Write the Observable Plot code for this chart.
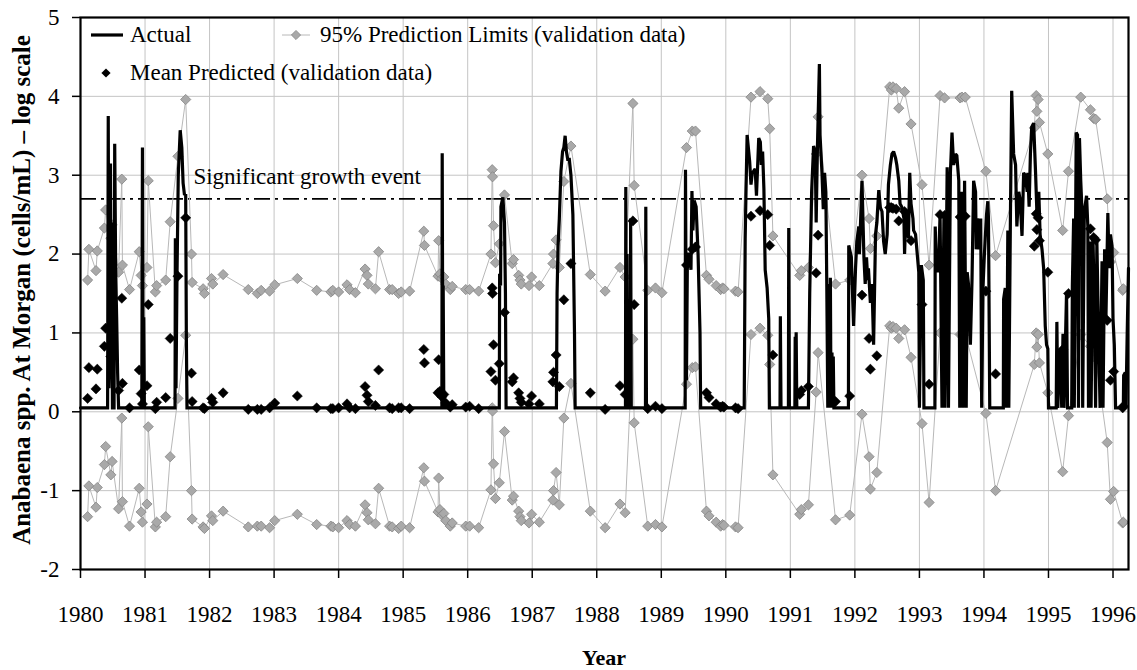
<!DOCTYPE html>
<html><head><meta charset="utf-8">
<script src="https://cdn.jsdelivr.net/npm/d3@7"></script>
<script src="https://cdn.jsdelivr.net/npm/@observablehq/plot@0.6"></script>
<style>
body{margin:0;background:#fff;}
#wrap{position:relative;width:1137px;height:670px;font-family:"Liberation Serif","Times New Roman",serif;color:#000;}
#wrap svg text{font-family:"Liberation Serif","Times New Roman",serif !important;font-variant:normal !important;}
.t{position:absolute;white-space:nowrap;line-height:1;font-size:23px;}
</style></head><body><div id="wrap"></div>
<script>
// ---- data ----
const yearTicks = [1980,1981,1982,1983,1984,1985,1986,1987,1988,1989,1990,1991,1992,1993,1994,1995,1996];
const valueTicks = [-2,-1,0,1,2,3,4,5];
const threshold = [2.7];
const thresholdLabel = ["Significant growth event"];
const seriesNames = ["Actual", "95% Prediction Limits (validation data)", "Mean Predicted (validation data)"];

const predYear = [1980.11,1980.13,1980.24,1980.26,1980.37,1980.39,1980.47,1980.49,1980.59,1980.64,1980.65,1980.76,1980.91,1980.94,1980.96,1981.03,1981.05,1981.16,1981.18,1981.32,1981.39,1981.51,1981.63,1981.72,1981.73,1981.90,1981.92,1982.03,1982.05,1982.21,1982.60,1982.74,1982.80,1982.93,1983.01,1983.36,1983.66,1983.88,1983.91,1984.00,1984.13,1984.17,1984.26,1984.41,1984.44,1984.46,1984.57,1984.62,1984.79,1984.83,1984.93,1984.97,1985.10,1985.32,1985.33,1985.54,1985.55,1985.57,1985.60,1985.63,1985.66,1985.73,1985.76,1985.97,1986.03,1986.17,1986.36,1986.38,1986.385,1986.40,1986.43,1986.49,1986.57,1986.69,1986.71,1986.79,1986.81,1986.83,1986.95,1986.99,1987.11,1987.32,1987.33,1987.37,1987.42,1987.49,1987.60,1987.90,1988.13,1988.36,1988.44,1988.56,1988.58,1988.79,1988.91,1989.01,1989.39,1989.48,1989.53,1989.70,1989.74,1989.85,1989.92,1989.95,1989.97,1990.15,1990.19,1990.39,1990.53,1990.65,1990.68,1990.73,1991.145,1991.17,1991.28,1991.40,1991.43,1991.70,1991.92,1992.11,1992.22,1992.24,1992.34,1992.54,1992.565,1992.59,1992.64,1992.68,1992.77,1992.87,1993.04,1993.15,1993.32,1993.39,1993.63,1993.66,1993.71,1994.03,1994.18,1994.78,1994.81,1994.82,1994.84,1994.86,1994.99,1995.22,1995.31,1995.50,1995.65,1995.70,1995.73,1995.91,1995.96,1996.01,1996.15,1996.16];
const predMean = [0.17,0.56,0.29,0.54,0.83,1.06,0.70,0.87,0.27,1.44,0.36,0.05,0.53,0.23,0.10,0.33,1.36,0.04,0.12,0.18,0.93,1.72,2.46,0.49,0.13,0.05,0.04,0.17,0.12,0.24,0.03,0.03,0.03,0.05,0.11,0.20,0.05,0.04,0.04,0.05,0.10,0.05,0.04,0.32,0.21,0.13,0.08,0.53,0.05,0.04,0.05,0.05,0.04,0.79,0.62,0.24,0.66,0.26,0.19,0.22,0.11,0.06,0.09,0.06,0.07,0.04,0.51,1.57,1.50,0.85,0.40,0.61,1.26,0.38,0.43,0.24,0.17,0.12,0.10,0.20,0.10,0.38,0.50,0.72,0.32,1.42,1.88,0.24,0.03,0.33,0.22,2.42,1.36,0.04,0.07,0.04,1.86,2.06,2.09,0.24,0.18,0.10,0.06,0.07,0.06,0.05,0.04,2.48,2.55,2.50,2.11,0.72,0.22,0.27,0.32,1.76,2.24,0.13,0.20,1.48,0.93,0.54,0.71,2.59,2.59,2.58,2.57,2.42,2.54,2.17,1.36,0.35,2.50,2.49,2.47,2.48,2.48,1.53,0.48,2.10,2.51,2.31,2.46,2.17,1.77,0.79,1.50,2.49,2.32,2.21,2.18,1.16,0.40,0.51,0.05,0.07];
const predUpper = [1.67,2.06,1.79,2.04,2.33,2.56,2.20,2.37,1.77,2.95,1.86,1.55,2.03,1.73,1.60,1.83,2.93,1.52,1.60,1.67,2.41,3.24,3.96,2.00,1.64,1.56,1.50,1.69,1.62,1.74,1.55,1.50,1.54,1.53,1.61,1.69,1.54,1.52,1.54,1.52,1.61,1.55,1.51,1.81,1.73,1.62,1.56,2.03,1.55,1.55,1.50,1.52,1.53,2.29,2.11,1.72,2.17,1.75,1.69,1.71,1.62,1.55,1.59,1.55,1.55,1.53,2.00,3.07,2.98,2.36,1.89,2.13,2.75,1.88,1.93,1.73,1.67,1.62,1.60,1.71,1.60,1.88,2.00,2.18,1.83,2.92,3.37,1.74,1.53,1.83,1.71,3.91,2.87,1.54,1.57,1.51,3.35,3.56,3.56,1.73,1.68,1.60,1.55,1.57,1.56,1.53,1.52,3.99,4.06,3.97,3.59,2.23,1.73,1.79,1.83,3.27,3.74,1.62,1.67,3.00,2.45,2.07,2.23,4.12,4.08,4.12,4.10,3.85,4.06,3.65,2.88,1.86,4.01,3.98,3.98,3.99,3.99,3.05,1.98,3.60,4.01,3.81,3.96,3.67,3.27,2.30,3.05,3.99,3.83,3.72,3.71,2.70,1.90,2.02,1.54,1.56];
const predLower = [-1.33,-0.94,-1.21,-0.96,-0.67,-0.44,-0.80,-0.63,-1.23,-0.08,-1.14,-1.45,-0.97,-1.27,-1.40,-1.17,-0.19,-1.46,-1.40,-1.33,-0.57,0.17,0.97,-1.00,-1.36,-1.46,-1.48,-1.32,-1.38,-1.26,-1.46,-1.45,-1.45,-1.47,-1.38,-1.30,-1.43,-1.45,-1.46,-1.47,-1.38,-1.43,-1.45,-1.18,-1.28,-1.37,-1.42,-0.97,-1.45,-1.46,-1.48,-1.45,-1.47,-0.71,-0.88,-1.27,-0.84,-1.24,-1.31,-1.29,-1.38,-1.45,-1.41,-1.45,-1.45,-1.47,-0.99,0.05,0.01,-0.66,-1.10,-0.90,-0.25,-1.12,-1.07,-1.26,-1.33,-1.38,-1.41,-1.30,-1.40,-1.12,-1.00,-0.77,-1.18,-0.08,0.36,-1.26,-1.47,-1.17,-1.28,0.92,-0.14,-1.45,-1.43,-1.46,0.35,0.56,0.57,-1.26,-1.32,-1.40,-1.45,-1.43,-1.44,-1.46,-1.47,0.98,1.06,0.97,0.60,-0.80,-1.30,-1.24,-1.18,0.25,0.75,-1.37,-1.31,-0.03,-0.57,-0.98,-0.77,1.09,1.06,1.08,1.06,0.93,1.04,0.69,-0.15,-1.15,1.00,1.00,0.98,0.98,0.99,-0.02,-1.00,0.60,1.00,0.82,0.98,0.62,0.24,-0.76,-0.05,0.98,0.83,0.71,0.68,-0.39,-1.11,-1.01,-1.41,-1.40];

// Actual series: [decimal year, log10 cells/mL]
const actual = [[1980.00,0.05],[1980.42,0.05],[1980.43,3.75],[1980.44,0.3],[1980.455,0.8],[1980.465,3.15],[1980.475,0.9],[1980.485,2.4],[1980.495,0.05],[1980.52,0.05],[1980.53,3.4],[1980.545,1.8],[1980.56,1.2],[1980.575,0.5],[1980.59,0.05],
[1980.95,0.05],[1980.96,3.35],[1980.97,0.5],[1980.98,1.2],[1980.99,0.05],
[1981.465,0.05],[1981.47,2.2],[1981.48,0.3],[1981.495,1.7],[1981.515,3.0],[1981.545,3.57],[1981.57,3.35],[1981.59,2.9],[1981.61,2.76],[1981.63,2.75],[1981.64,1.0],[1981.65,0.05],
[1985.60,0.05],[1985.605,3.28],[1985.615,0.3],[1985.62,1.6],[1985.63,0.05],
[1986.49,0.05],[1986.495,1.75],[1986.51,1.6],[1986.515,2.6],[1986.545,2.72],[1986.57,2.4],[1986.585,1.5],[1986.595,0.05],
[1987.375,0.05],[1987.385,1.5],[1987.40,2.1],[1987.42,2.45],[1987.445,3.05],[1987.47,3.3],[1987.49,3.35],[1987.51,3.5],[1987.53,3.3],[1987.55,3.2],[1987.575,3.2],[1987.60,3.0],[1987.63,2.5],[1987.655,1.0],[1987.665,0.05],
[1988.445,0.05],[1988.45,2.85],[1988.46,0.3],[1988.47,2.0],[1988.48,0.05],[1988.52,0.05],[1988.525,2.45],[1988.535,0.05],[1988.755,0.05],[1988.76,2.6],[1988.77,0.05],
[1989.37,0.05],[1989.375,3.07],[1989.39,0.4],[1989.405,2.0],[1989.44,2.0],[1989.46,1.8],[1989.475,2.8],[1989.49,2.3],[1989.51,2.68],[1989.54,2.6],[1989.57,2.0],[1989.60,1.0],[1989.61,0.05],
[1990.285,0.05],[1990.30,2.2],[1990.315,2.9],[1990.33,3.51],[1990.355,3.3],[1990.37,3.17],[1990.39,2.88],[1990.41,3.03],[1990.43,3.05],[1990.455,3.08],[1990.475,2.74],[1990.51,3.47],[1990.535,3.42],[1990.55,3.13],[1990.57,3.3],[1990.59,2.83],[1990.61,1.8],[1990.64,1.57],[1990.665,1.18],[1990.675,0.05],
[1990.84,0.05],[1990.845,1.21],[1990.855,0.05],[1990.97,0.05],[1990.975,2.33],[1990.985,0.05],[1991.07,0.05],[1991.075,0.95],[1991.085,0.2],[1991.09,1.01],[1991.10,0.05],
[1991.28,0.05],[1991.30,1.5],[1991.33,2.8],[1991.36,3.37],[1991.385,3.3],[1991.40,2.4],[1991.42,3.37],[1991.45,4.41],[1991.46,3.51],[1991.49,3.03],[1991.51,2.57],[1991.53,3.03],[1991.55,2.79],[1991.565,1.57],[1991.58,0.05],[1991.60,1.62],[1991.61,0.05],[1991.62,1.7],[1991.63,0.05],[1991.645,0.75],[1991.655,0.05],[1991.665,0.7],[1991.675,0.05],
[1991.90,0.05],[1991.905,2.11],[1991.945,1.96],[1991.98,1.09],[1992.01,1.82],[1992.03,2.16],[1992.06,2.35],[1992.07,2.0],[1992.085,2.33],[1992.11,2.93],[1992.14,1.96],[1992.16,1.62],[1992.18,1.96],[1992.20,1.67],[1992.21,1.82],[1992.24,1.38],[1992.265,1.62],[1992.29,0.85],[1992.32,2.25],[1992.34,2.4],[1992.37,2.81],[1992.395,2.59],[1992.42,2.54],[1992.445,2.16],[1992.47,2.0],[1992.50,2.25],[1992.52,2.88],[1992.55,3.13],[1992.575,3.27],[1992.60,3.30],[1992.63,3.22],[1992.65,3.13],[1992.68,2.93],[1992.70,2.64],[1992.73,2.59],[1992.76,2.45],[1992.77,2.0],[1992.79,2.54],[1992.81,2.45],[1992.83,2.2],[1992.85,3.03],[1992.87,2.64],[1992.90,2.45],[1992.91,2.3],[1992.94,2.25],[1992.96,2.06],[1992.99,1.77],[1993.00,0.05],[1993.03,1.86],[1993.06,1.67],[1993.07,0.05],
[1993.24,0.05],[1993.245,2.35],[1993.26,1.86],[1993.28,1.77],[1993.30,1.96],[1993.32,2.5],[1993.35,0.05],[1993.38,2.45],[1993.395,0.05],[1993.43,3.10],[1993.45,0.05],[1993.48,3.03],[1993.505,3.54],[1993.53,3.13],[1993.56,3.27],[1993.58,3.25],[1993.61,2.93],[1993.625,0.05],[1993.65,2.79],[1993.675,0.05],[1993.70,2.93],[1993.725,0.05],[1993.74,1.77],[1993.76,1.62],[1993.79,0.85],[1993.815,1.67],[1993.84,2.93],[1993.87,2.79],[1993.88,2.06],[1993.90,2.45],[1993.92,2.35],[1993.93,2.06],[1993.95,2.45],[1993.965,0.05],[1993.985,1.57],[1994.005,1.96],[1994.02,2.2],[1994.04,2.5],[1994.06,2.67],[1994.07,2.45],[1994.09,0.05],
[1994.30,0.05],[1994.305,1.43],[1994.33,1.57],[1994.35,0.05],[1994.37,2.30],[1994.385,0.05],[1994.41,2.45],[1994.43,4.07],[1994.46,3.27],[1994.49,3.13],[1994.51,2.35],[1994.54,2.79],[1994.56,2.69],[1994.59,2.23],[1994.615,3.03],[1994.64,3.0],[1994.67,2.79],[1994.68,3.03],[1994.70,2.6],[1994.72,3.27],[1994.74,3.61],[1994.77,3.66],[1994.80,3.03],[1994.82,2.54],[1994.85,2.79],[1994.87,2.25],[1994.90,2.06],[1994.925,1.82],[1994.95,1.09],[1994.97,0.85],[1994.99,0.8],[1995.00,0.05],
[1995.12,0.05],[1995.13,1.14],[1995.145,0.05],[1995.17,0.70],[1995.19,0.8],[1995.205,0.05],[1995.225,0.99],[1995.24,0.05],[1995.28,1.52],[1995.295,0.05],[1995.36,0.05],[1995.37,1.6],[1995.39,2.45],[1995.40,0.05],[1995.43,3.54],[1995.45,3.51],[1995.465,0.05],[1995.48,3.47],[1995.50,2.93],[1995.52,2.54],[1995.53,0.05],[1995.555,2.54],[1995.59,2.74],[1995.61,2.35],[1995.62,0.05],[1995.65,2.16],[1995.66,0.05],[1995.69,2.2],[1995.72,0.85],[1995.73,0.05],[1995.75,2.16],[1995.78,0.8],[1995.80,0.05],[1995.83,1.91],[1995.845,0.05],[1995.87,2.06],[1995.89,1.18],[1995.92,2.52],[1995.94,1.82],[1995.96,2.25],[1995.985,2.1],[1996.00,1.18],[1996.02,0.85],[1996.04,0.05],[1996.16,0.05],[1996.165,0.46],[1996.19,0.5],[1996.20,0.05],[1996.22,1.0],[1996.24,1.82]];

// ---- build tables ----
const pred = predYear.map((t,i)=>({t, mean:predMean[i], up:predUpper[i], lo:predLower[i]}));
const act = actual.map(([t,v])=>({t,v}));

const serif = '"Liberation Serif","Times New Roman",serif';
const grey = "#a9a9a9", greyStroke = "#858585", greyLine = "#b8b8b8";

const chart = Plot.plot({
  width: 1137, height: 670,
  marginLeft: 80, marginRight: 9, marginTop: 17, marginBottom: 101,
  style: {fontFamily: serif, fontSize: "23px", background: "white", color: "black", overflow: "visible"},
  x: {domain: [1980, 1996.24], label: null},
  y: {domain: [-2, 5], label: null},
  marks: [
    Plot.gridX(yearTicks, {stroke: "#c4c4c4", strokeOpacity: 1, strokeWidth: 1}),
    Plot.gridY(valueTicks, {stroke: "#c4c4c4", strokeOpacity: 1, strokeWidth: 1}),
    Plot.axisX(yearTicks, {tickFormat: d => String(d), tickSize: 9, tickPadding: 27, strokeWidth: 1.5, fontSize: 23, fontFamily: serif}),
    Plot.axisY(valueTicks, {tickFormat: d => String(d), tickSize: 8, tickPadding: 13, strokeWidth: 1.5, fontSize: 23, fontFamily: serif}),
    Plot.ruleY(threshold, {stroke: "black", strokeWidth: 1.6, strokeDasharray: "16,5,3,5"}),
    Plot.text(thresholdLabel, {x: () => 1981.75, y: () => threshold[0], text: d => d, textAnchor: "start", dy: -22, fontSize: 23, fontFamily: serif}),
    Plot.line(pred, {x: "t", y: "up", stroke: greyLine, strokeWidth: 1}),
    Plot.line(pred, {x: "t", y: "lo", stroke: greyLine, strokeWidth: 1}),
    Plot.dot(pred, {x: "t", y: "up", symbol: "diamond2", r: 4.6, fill: grey, stroke: greyStroke, strokeWidth: 0.8}),
    Plot.dot(pred, {x: "t", y: "lo", symbol: "diamond2", r: 4.6, fill: grey, stroke: greyStroke, strokeWidth: 0.8}),
    Plot.line(act, {x: "t", y: "v", stroke: "black", strokeWidth: 3.2, strokeLinejoin: "miter", strokeMiterlimit: 2}),
    Plot.dot(pred, {x: "t", y: "mean", symbol: "diamond2", r: 4.6, fill: "black", stroke: "black", strokeWidth: 0.5}),
    Plot.frame({stroke: "black", strokeWidth: 2.2})
  ]
});

const wrap = document.getElementById("wrap");
chart.style.position = "absolute"; chart.style.left = "0"; chart.style.top = "0";
wrap.appendChild(chart);

// legend (inside plot area, top-left)
const leg = document.createElementNS("http://www.w3.org/2000/svg","svg");
leg.setAttribute("width","1137"); leg.setAttribute("height","100");
leg.style.position = "absolute"; leg.style.left = "0"; leg.style.top = "0";
leg.innerHTML = `
 <line x1="91" x2="123" y1="35" y2="35" stroke="black" stroke-width="3.2"/>
 <line x1="282" x2="310" y1="35" y2="35" stroke="${greyLine}" stroke-width="1"/>
 <path d="M296,30.4 L300.6,35 L296,39.6 L291.4,35 Z" fill="${grey}" stroke="${greyStroke}" stroke-width="0.8"/>
 <path d="M106,68.4 L110.6,73 L106,77.6 L101.4,73 Z" fill="black"/>`;
wrap.appendChild(leg);
function addText(txt, x, y, extra){
  const d = document.createElement("div"); d.className = "t"; d.textContent = txt;
  d.style.left = x + "px"; d.style.top = y + "px"; if (extra) Object.assign(d.style, extra);
  wrap.appendChild(d); return d;
}
addText(seriesNames[0], 130, 23);
addText(seriesNames[1], 320, 23);
addText(seriesNames[2], 130, 61);
addText("Anabaena spp. At Morgan (cells/mL) \u2013 log scale", 21, 290, {fontWeight: "bold", fontSize: "25px", transform: "translate(-50%,-50%) rotate(-90deg)"});
addText("Year", 604, 658, {fontWeight: "bold", fontSize: "22px", transform: "translate(-50%,-50%)"});
</script>
</body></html>
